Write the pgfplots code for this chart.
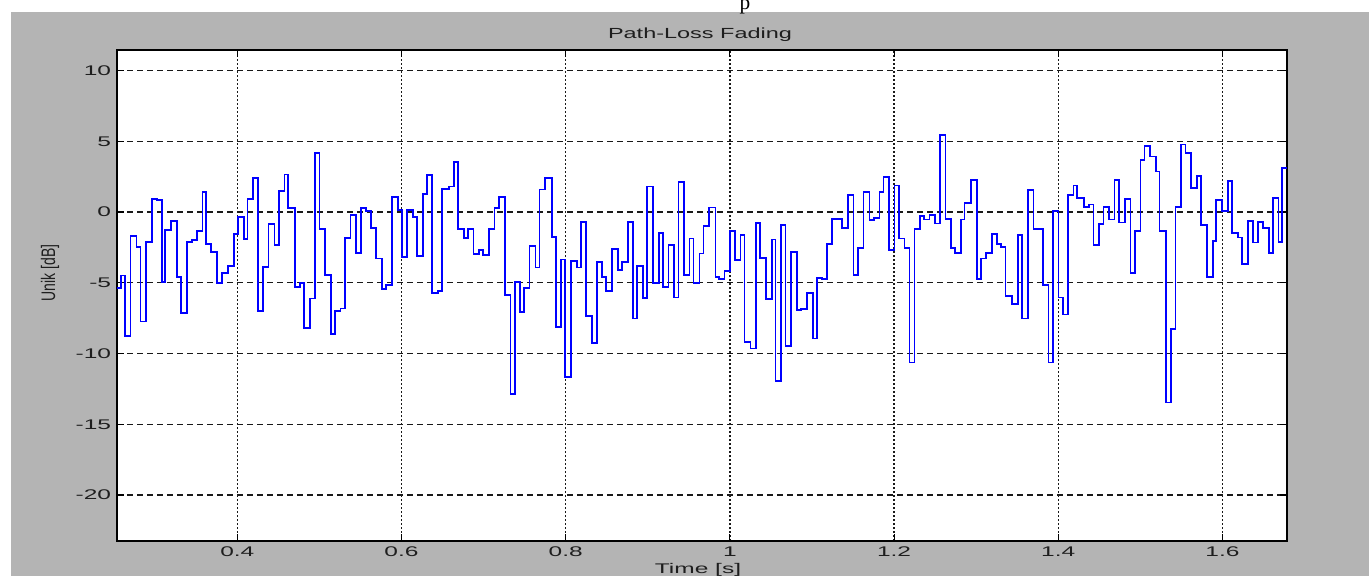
\documentclass[border=0pt]{standalone}
\usepackage{pgfplots}
\pgfplotsset{compat=1.18}
\usepackage{fontspec}
\setmainfont{Liberation Sans}
\newfontfamily\seriffont{Liberation Serif}
\definecolor{figgray}{RGB}{180,180,180}
\definecolor{txt}{RGB}{30,30,30}
\begin{document}
\begin{tikzpicture}[x=0.75pt,y=0.75pt]
\useasboundingbox (0,0) rectangle (1369,576);
\fill[figgray] (11,0) rectangle (1369,564);
\node[font=\seriffont\fontsize{16}{18}\selectfont, anchor=base] at (745,566) {p};
\begin{axis}[
  at={(87.75pt,26.25pt)}, anchor=south west,
  width=877.5pt, height=368.25pt, scale only axis,
  xmin=0.2534, xmax=1.6787, ymin=-23.25, ymax=11.45,
  axis background/.style={fill=white},
  axis line style={black, line width=1pt},
  xtick={0.4,0.6,0.8,1,1.2,1.4,1.6},
  xticklabels={0.4,0.6,0.8,1,1.2,1.4,1.6},
  ytick={-20,-15,-10,-5,0,5,10},
  yticklabels={-20,-15,-10,-5,0,5,10},
  tick align=inside, major tick length=5pt,
  tick style={black, line width=0.8pt},
  xmajorgrids, ymajorgrids,
  x grid style={black!90, line width=1pt, dash pattern=on 1.5pt off 1.5pt},
  y grid style={black!90, line width=0.9pt, dash pattern=on 4.5pt off 3pt},
  ticklabel style={font=\fontsize{10.5}{12}\selectfont, text=txt, xscale=1.75},
  yticklabel style={xshift=1pt},
  xticklabel style={yshift=-1pt},
]
\addplot[const plot, color={rgb,255:red,0;green,0;blue,255}, line width=1.3pt] coordinates {
(0.2534,-5.36) (0.2579,-4.49) (0.2627,-8.78) (0.2697,-1.67) (0.2770,-2.47) (0.2819,-7.74) (0.2883,-2.12) (0.2960,0.94) (0.3021,0.87) (0.3082,-4.92) (0.3118,-1.29) (0.3196,-0.61) (0.3269,-4.61) (0.3318,-7.13) (0.3391,-2.12) (0.3452,-2.0) (0.3508,-1.34) (0.3574,1.39) (0.3622,-2.26) (0.3683,-2.85) (0.3752,-5.01) (0.3812,-4.33) (0.3886,-3.79) (0.3955,-1.53) (0.4007,-0.33) (0.4077,-1.93) (0.4125,0.94) (0.4190,2.42) (0.4256,-6.99) (0.4312,-3.88) (0.4381,-0.85) (0.4454,-2.33) (0.4503,1.46) (0.4576,2.66) (0.4616,0.26) (0.4698,-5.29) (0.4759,-5.01) (0.4811,-8.19) (0.4889,-6.12) (0.4950,4.19) (0.5002,-1.2) (0.5072,-4.47) (0.5145,-8.61) (0.5194,-7.01) (0.5258,-6.82) (0.5307,-1.86) (0.5380,-0.19) (0.5449,-2.92) (0.5502,0.26) (0.5571,0.07) (0.5632,-1.15) (0.5693,-3.29) (0.5761,-5.46) (0.5815,-5.18) (0.5883,1.06) (0.5956,0.12) (0.6005,-3.2) (0.6066,0.16) (0.6139,-0.35) (0.6188,-3.13) (0.6261,1.29) (0.6309,2.64) (0.6375,-5.72) (0.6443,-5.6) (0.6497,1.65) (0.6574,1.81) (0.6638,3.53) (0.6692,-1.2) (0.6760,-1.86) (0.6809,-1.2) (0.6878,-2.99) (0.6943,-2.66) (0.6996,-3.06) (0.7065,-1.2) (0.7134,0.26) (0.7183,1.06) (0.7259,-5.88) (0.7329,-12.87) (0.7381,-4.94) (0.7447,-7.08) (0.7496,-5.39) (0.7560,-2.4) (0.7633,-3.93) (0.7682,1.6) (0.7751,2.42) (0.7832,-1.74) (0.7885,-8.12) (0.7946,-3.36) (0.7995,-11.65) (0.8068,-3.46) (0.8136,-3.93) (0.8190,-0.71) (0.8251,-7.36) (0.8324,-9.25) (0.8380,-3.53) (0.8446,-4.61) (0.8494,-5.6) (0.8568,-2.61) (0.8636,-4.09) (0.8689,-3.53) (0.8758,-0.71) (0.8818,-7.53) (0.8872,-3.81) (0.8940,-6.09) (0.8989,1.81) (0.9062,-5.01) (0.9135,-1.46) (0.9184,-5.29) (0.9253,-2.33) (0.9318,-6.05) (0.9375,2.12) (0.9440,-4.47) (0.9509,-1.88) (0.9558,-5.01) (0.9631,-2.94) (0.9680,-1.01) (0.9744,0.31) (0.9826,-4.59) (0.9866,-4.71) (0.9935,-4.19) (1.0005,-1.34) (1.0066,-3.41) (1.0130,-1.6) (1.0179,-9.18) (1.0252,-9.65) (1.0321,-0.78) (1.0370,-3.25) (1.0443,-6.16) (1.0511,-1.95) (1.0556,-11.93) (1.0626,-0.94) (1.0678,-9.46) (1.0748,-2.82) (1.0816,-6.94) (1.0870,-6.87) (1.0938,-5.74) (1.1011,-8.94) (1.1060,-4.64) (1.1120,-4.71) (1.1181,-2.24) (1.1247,-0.49) (1.1364,-1.13) (1.1437,1.22) (1.1507,-4.47) (1.1559,-2.54) (1.1628,1.39) (1.1701,-0.54) (1.1754,-0.4) (1.1823,1.39) (1.1872,2.47) (1.1937,-2.71) (1.2006,1.88) (1.2058,-1.88) (1.2128,-2.54) (1.2189,-10.64) (1.2250,-1.18) (1.2319,-0.28) (1.2363,-0.52) (1.2432,-0.19) (1.2502,-0.82) (1.2563,5.46) (1.2627,-0.47) (1.2697,-2.52) (1.2745,-2.89) (1.2818,-0.52) (1.2859,0.66) (1.2940,2.28) (1.3008,-4.75) (1.3062,-3.29) (1.3123,-2.89) (1.3196,-1.53) (1.3252,-2.24) (1.3306,-2.47) (1.3358,-5.95) (1.3435,-6.52) (1.3508,-1.6) (1.3556,-7.53) (1.3630,1.53) (1.3699,-1.2) (1.3812,-5.18) (1.3882,-10.64) (1.3934,0.05) (1.4003,-6.05) (1.4056,-7.25) (1.4117,1.22) (1.4186,1.88) (1.4231,1.01) (1.4312,0.35) (1.4373,0.54) (1.4430,-2.31) (1.4494,-0.85) (1.4552,0.35) (1.4616,-0.52) (1.4686,2.28) (1.4738,-0.75) (1.4816,0.92) (1.4880,-4.31) (1.4938,-1.34) (1.5002,3.69) (1.5051,4.64) (1.5120,3.93) (1.5193,2.87) (1.5234,-1.34) (1.5315,-13.46) (1.5376,-8.26) (1.5428,0.35) (1.5498,4.78) (1.5550,4.19) (1.5620,1.69) (1.5688,2.54) (1.5742,-0.94) (1.5810,-4.59) (1.5883,-2.05) (1.5924,0.87) (1.5992,0.05) (1.6066,2.19) (1.6114,-1.46) (1.6187,-1.81) (1.6236,-3.65) (1.6309,-0.64) (1.6370,-2.16) (1.6431,-0.68) (1.6492,-1.13) (1.6565,-2.89) (1.6614,1.01) (1.6683,-2.12) (1.6728,3.13) (1.6787,3.13)
};
\end{axis}
\node[font=\fontsize{11}{13}\selectfont, text=txt, xscale=1.6] at (700,541) {Path-Loss Fading};
\node[font=\fontsize{10.5}{12}\selectfont, text=txt, xscale=1.75, anchor=north, inner sep=0pt] at (698,13) {Time [s]};
\node[font=\fontsize{10.5}{12}\selectfont, text=txt, xscale=1.4, rotate=90] at (50,303) {Unik [dB]};
\end{tikzpicture}
\end{document}
